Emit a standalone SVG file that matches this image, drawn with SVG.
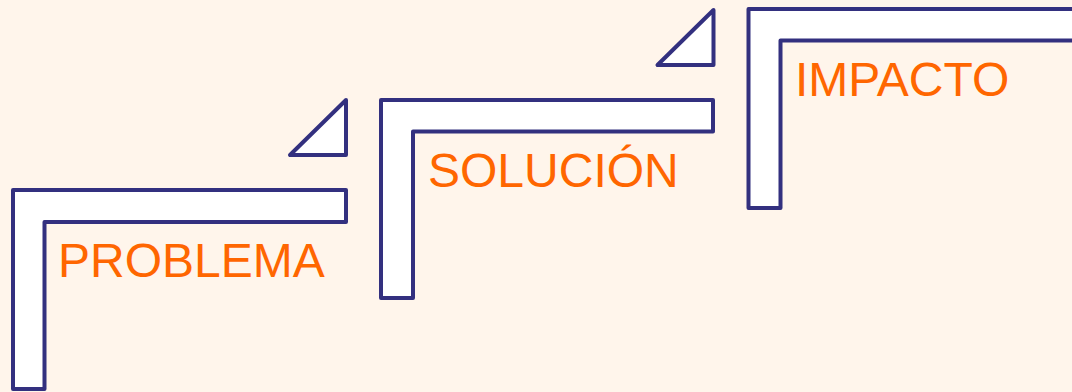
<svg xmlns="http://www.w3.org/2000/svg" width="1072" height="392" viewBox="0 0 1072 392">
  <style>
    .step { fill: #FFFFFF; stroke: #33307F; stroke-width: 4; stroke-linejoin: round; }
    .tri { fill: #FFFFFF; stroke: #33307F; stroke-width: 4; stroke-linejoin: round; }
    .lbl { font-family: "Liberation Sans", Arial, sans-serif; font-size: 48px; fill: #FF6600; }
  </style>
  <rect x="0" y="0" width="1072" height="392" fill="#FFF5EB"/>
  <g id="problema">
    <path class="step" d="M13,190 H346 V222 H44.5 V389 H13 Z"/>
    <text class="lbl" x="58" y="277">PROBLEMA</text>
  </g>
  <g id="triangulo1">
    <path class="tri" d="M346,100 L290,155 L346,155 Z"/>
  </g>
  <g id="solucion">
    <path class="step" d="M381,100 H713 V131.5 H413 V298 H381 Z"/>
    <text class="lbl" x="428" y="186.5">SOLUCIÓN</text>
  </g>
  <g id="triangulo2">
    <path class="tri" d="M713.5,10 L657.5,65 L713.5,65 Z"/>
  </g>
  <g id="impacto">
    <path class="step" d="M748.5,9 H1082 V40.5 H780.5 V208 H748.5 Z"/>
    <text class="lbl" x="795" y="96">IMPACTO</text>
  </g>
  <g id="connectors"/>
</svg>
